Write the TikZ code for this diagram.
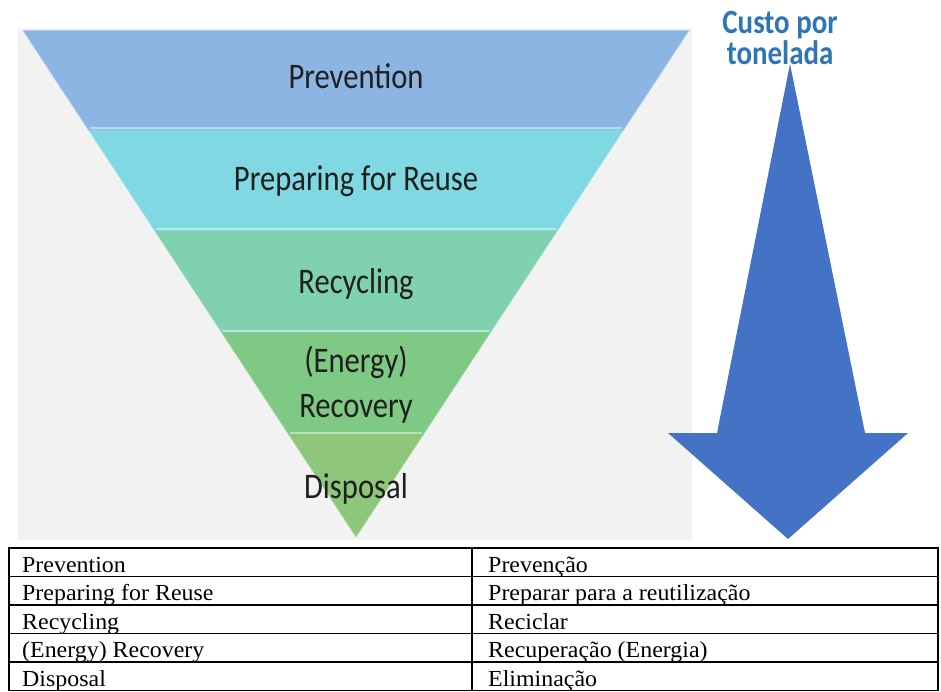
\documentclass[tikz,border=0pt]{standalone}
\usepackage{fontspec}
\setmainfont{Liberation Serif}
\newfontfamily\pyrfont[FakeStretch=0.85]{Carlito}
\newfontfamily\tabfont[FakeStretch=1.04]{Liberation Serif}
\definecolor{panelgray}{RGB}{242,242,242}
\definecolor{bandA}{RGB}{141,181,228}
\definecolor{bandB}{RGB}{128,216,226}
\definecolor{bandC}{RGB}{128,209,176}
\definecolor{bandD}{RGB}{126,201,132}
\definecolor{bandE}{RGB}{142,199,124}
\definecolor{costblue}{RGB}{68,114,196}
\definecolor{costtext}{RGB}{46,117,182}
\begin{document}
\begin{tikzpicture}[x=1pt, y=-1pt,
    pyrlabel/.style={font=\pyrfont\fontsize{36}{45}\selectfont, anchor=base, align=center, text=black!88},
    costlabel/.style={font=\pyrfont\bfseries\fontsize{34}{31}\selectfont, anchor=base, align=center, text=costtext},
    cell/.style={font=\tabfont\fontsize{23}{24}\selectfont, anchor=base west, inner sep=0pt}]
    \useasboundingbox (0,0) rectangle (941,692);
    \fill[panelgray] (18,28) rectangle (692,540);
    \foreach \t/\b/\c in {30/130/bandA,130/231/bandB,231/333/bandC,333/435/bandD}
        \fill[\c] ({22+(\t-30)*0.6575},\t) -- ({690-(\t-30)*0.6575},\t) -- ({690-(\b-30)*0.6575},\b) -- ({22+(\b-30)*0.6575},\b) -- cycle;
    \fill[bandE] (288.3,435) -- (423.7,435) -- (356,538) -- cycle;
    \foreach \b in {130,231,333,435}
        \draw[white, opacity=.45, line width=2.5] ({22+(\b-30)*0.6575+2},\b-2) -- ({690-(\b-30)*0.6575-2},\b-2);
    \draw[white, opacity=.4, line width=1.5] (22,30) -- (356,538) -- (690,30) -- cycle;
    \node[pyrlabel] (prev) at (356,89) {Prevention};
    \node[pyrlabel] (reuse) at (356,191) {Preparing for Reuse};
    \node[pyrlabel] (recyc) at (356,294) {Recycling};
    \node[pyrlabel] (energy) at (356,417) {(Energy)\\Recovery};
    \node[pyrlabel] (disp) at (356,498) {Disposal};
    \node[costlabel] (cost) at (780,65) {Custo por\\tonelada};
    \coordinate (tip) at (788,539);
    \fill[costblue] (790,64) -- (865,433) -- (908,433) -- (tip) -- (668,433) -- (717,433) -- cycle;
    \draw[line width=1.5] (9,548) rectangle (938,690.5);
    \foreach \y in {576.5,605,633.5,662}
        \draw[line width=1.2] (9,\y) -- (938,\y);
    \draw[line width=1.2] (472,548) -- (472,690.5);
    \foreach \en/\pt [count=\i] in {Prevention/Prevenção, Preparing for Reuse/Preparar para a reutilização, Recycling/Reciclar, (Energy) Recovery/Recuperação (Energia), Disposal/Eliminação} {
        \node[cell] (en\i) at (22,{548+28.5*(\i-1)+24}) {\en};
        \node[cell] (pt\i) at (488,{548+28.5*(\i-1)+24}) {\pt};
    }
\end{tikzpicture}
\end{document}
